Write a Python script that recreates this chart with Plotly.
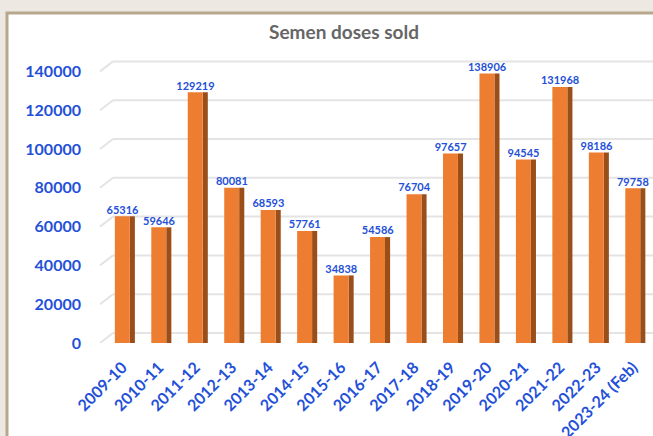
import plotly.graph_objects as go

categories = ["2009-10", "2010-11", "2011-12", "2012-13", "2013-14", "2014-15",
              "2015-16", "2016-17", "2017-18", "2018-19", "2019-20", "2020-21",
              "2021-22", "2022-23", "2023-24 (Feb)"]
doses_sold = [65316, 59646, 129219, 80081, 68593, 57761, 34838, 54586,
              76704, 97657, 138906, 94545, 131968, 98186, 79758]
y_ticks = [0, 20000, 40000, 60000, 80000, 100000, 120000, 140000]

W, H = 653, 436
L, R, T, B = 100, 0, 52, 93
PW, PH = W - L - R, H - T - B
Y_MAX = 150000

BLUE = "#2450d8"
ORANGE = "#ed7d31"
DARK = "#9a4e1a"
FONT = "Lato"
BG = "#ede9e2"
GRID = "#e4e4e4"

xs = list(range(len(categories)))

def px_x(p):
    return (p - L) / PW

def px_y(p):
    return (H - B - p) / PH

# 3D back-wall gridlines: raised by ~10px, with diagonal stub from front edge
wall_dy = 10 * Y_MAX / PH
shapes = [dict(type="rect", xref="paper", yref="paper",
               x0=px_x(7), x1=px_x(W + 10), y0=px_y(H + 10), y1=px_y(13),
               fillcolor="white", line=dict(color="#b7a78d", width=3),
               layer="below")]
for t in y_ticks:
    shapes.append(dict(type="line", xref="paper", yref="y",
                       x0=px_x(100), x1=px_x(113), y0=t, y1=t + wall_dy,
                       line=dict(color=GRID, width=2), layer="below"))
    shapes.append(dict(type="line", xref="paper", yref="y",
                       x0=px_x(113), x1=px_x(W + 5), y0=t + wall_dy, y1=t + wall_dy,
                       line=dict(color=GRID, width=2), layer="below"))

fig = go.Figure()
# side face (3D look)
fig.add_trace(go.Bar(x=xs, y=doses_sold, width=0.14, offset=0.2,
                     marker=dict(color=DARK, line=dict(width=0)),
                     hoverinfo="skip", showlegend=False))
# front face
fig.add_trace(go.Bar(x=xs, y=doses_sold, width=0.41, offset=-0.21,
                     marker=dict(color=ORANGE, line=dict(width=0)),
                     showlegend=False))
# data labels
fig.add_trace(go.Scatter(x=xs, y=doses_sold, mode="text",
                         text=[str(v) for v in doses_sold],
                         textposition="top center",
                         textfont=dict(family=FONT, size=11, color=BLUE, weight="bold"),
                         cliponaxis=False, showlegend=False, hoverinfo="skip"))

fig.update_layout(
    width=W, height=H,
    margin=dict(l=L, r=R, t=T, b=B, autoexpand=False),
    paper_bgcolor=BG,
    plot_bgcolor="rgba(0,0,0,0)",
    barmode="overlay",
    title=dict(text="Semen doses sold", x=344 / W, xanchor="center",
               y=1 - 32 / H, yanchor="middle", automargin=False,
               font=dict(family=FONT, size=19, color="#666666", weight="bold")),
    xaxis=dict(range=[-0.617, 14.55], tickmode="array", tickvals=xs,
               ticktext=categories, tickangle=-45, showgrid=False,
               zeroline=False, showline=False, ticks="", automargin=False,
               ticklabelstandoff=11,
               tickfont=dict(family=FONT, size=16, color=BLUE, weight="bold")),
    yaxis=dict(range=[0, Y_MAX], tickmode="array", tickvals=y_ticks,
               ticktext=[str(v) for v in y_ticks], automargin=False,
               showgrid=False, zeroline=False,
               showline=False, ticks="", ticklabelstandoff=18,
               tickfont=dict(family=FONT, size=16, color=BLUE, weight="bold")),
    shapes=shapes,
)

fig.write_html("out.html", config={"displayModeBar": False},
               post_script="document.body.style.margin='0';"
                           "document.body.style.background='%s';" % BG)
